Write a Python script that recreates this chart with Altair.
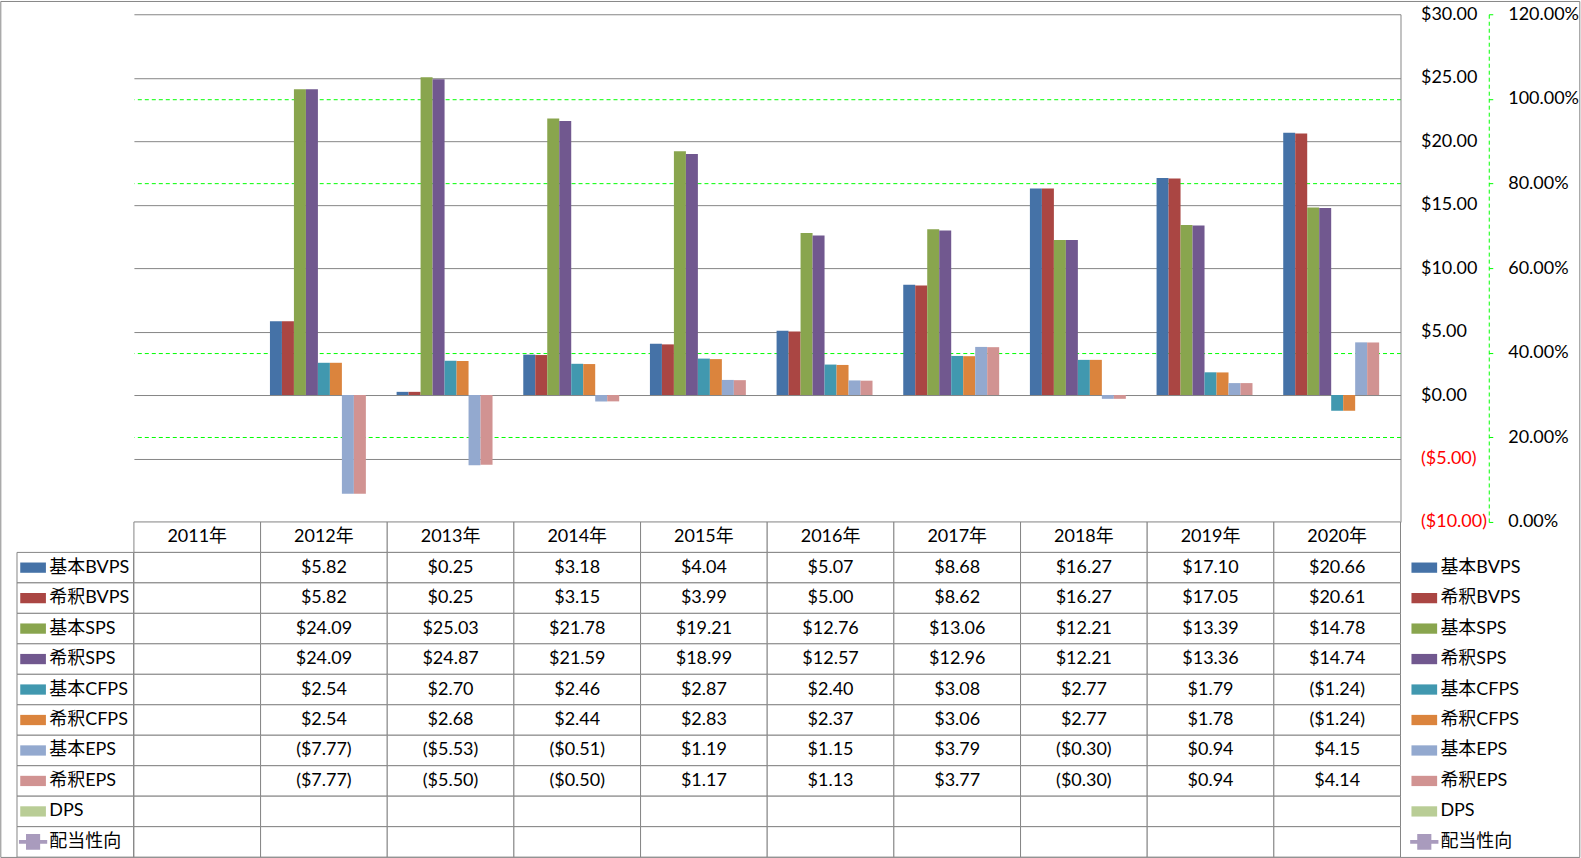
import altair as alt
import pandas as pd

# ---------------- data ----------------
years = ["2011年", "2012年", "2013年", "2014年", "2015年", "2016年", "2017年", "2018年", "2019年", "2020年"]
series_names = ["基本BVPS", "希釈BVPS", "基本SPS", "希釈SPS", "基本CFPS", "希釈CFPS", "基本EPS", "希釈EPS", "DPS", "配当性向"]
bar_series = series_names[:9]
colors = ["#4572A7", "#AA4643", "#89A54E", "#71588F", "#4198AF", "#DB843D", "#93A9CF", "#D19392", "#B9CD96", "#A99BBD"]

basic_bvps = [None, 5.82, 0.25, 3.18, 4.04, 5.07, 8.68, 16.27, 17.10, 20.66]
dil_bvps = [None, 5.82, 0.25, 3.15, 3.99, 5.00, 8.62, 16.27, 17.05, 20.61]
basic_sps = [None, 24.09, 25.03, 21.78, 19.21, 12.76, 13.06, 12.21, 13.39, 14.78]
dil_sps = [None, 24.09, 24.87, 21.59, 18.99, 12.57, 12.96, 12.21, 13.36, 14.74]
basic_cfps = [None, 2.54, 2.70, 2.46, 2.87, 2.40, 3.08, 2.77, 1.79, -1.24]
dil_cfps = [None, 2.54, 2.68, 2.44, 2.83, 2.37, 3.06, 2.77, 1.78, -1.24]
basic_eps = [None, -7.77, -5.53, -0.51, 1.19, 1.15, 3.79, -0.30, 0.94, 4.15]
dil_eps = [None, -7.77, -5.50, -0.50, 1.17, 1.13, 3.77, -0.30, 0.94, 4.14]
dps = [None] * 10
payout = [None] * 10

usd_ticks = [-10, -5, 0, 5, 10, 15, 20, 25, 30]
pct_ticks = [0, 0.2, 0.4, 0.6, 0.8, 1.0, 1.2]

series_values = [basic_bvps, dil_bvps, basic_sps, dil_sps, basic_cfps, dil_cfps,
                 basic_eps, dil_eps, dps, payout]

rows = []
for name, vals in zip(series_names, series_values):
    for yr, v in zip(years, vals):
        rows.append({"year": yr, "series": name, "v": v})
df = pd.DataFrame(rows)

row_domain = ["header"] + series_names
cells = pd.DataFrame([{"year": yr, "row": r} for r in row_domain for yr in years])
year_df = pd.DataFrame({"year": years, "row": ["header"] * len(years)})
label_df = pd.DataFrame({"row": series_names})

# ---------------- styling ----------------
FONT = "Lato, 'Noto Sans CJK JP', sans-serif"
FS = 18
GRAY = "#868686"
GREEN = "#00FF00"
W_LAB, W_PLOT, H_PLOT, H_TAB, W_LEG = 116.6, 1267.4, 508, 335.4, 180

RECT_PATH = "M-1,-0.4H1V0.4H-1Z"
LINE_PATH = ("M-1.1,-0.15H-0.55V-0.62H0.55V-0.15H1.1V0.15H0.55V0.62H-0.55V0.15H-1.1Z")

color_scale = alt.Scale(domain=series_names, range=colors)
shape_scale = alt.Scale(domain=series_names, range=[RECT_PATH] * 9 + [LINE_PATH])

# ---------------- plot ----------------
x_plot = alt.X("year:N", sort=years,
               scale=alt.Scale(domain=years, paddingInner=0.148, paddingOuter=0.074),
               axis=None)

usd_label = ("datum.value < 0 ? '($' + format(-datum.value, '.2f') + ')' : "
             "'$' + format(datum.value, '.2f')")

bars = alt.Chart(df).transform_filter(
    alt.FieldOneOfPredicate(field="series", oneOf=bar_series)
).transform_filter("isValid(datum.v)").mark_bar().encode(
    x=x_plot,
    xOffset=alt.XOffset("series:N", scale=alt.Scale(domain=bar_series, paddingInner=0, paddingOuter=0)),
    y=alt.Y("v:Q",
            scale=alt.Scale(domain=[-10, 30], nice=False, zero=False),
            axis=alt.Axis(orient="right", values=usd_ticks, grid=True, gridColor=GRAY,
                          domain=True, domainColor=GRAY, ticks=False, labelPadding=20,
                          labelFont=FONT, labelFontSize=FS, labelExpr=usd_label,
                          labelColor={"condition": {"test": "datum.value < 0", "value": "#FF0000"},
                                      "value": "#000000"},
                          labelAlign="left", labelBaseline="middle", title=None)),
    color=alt.Color("series:N", scale=color_scale, legend=None),
)

# percent gridlines that coincide with a $ gridline are hidden (the grey line wins)
pct_hidden = "datum.value < 0.01 || abs(datum.value - 0.6) < 0.01 || datum.value > 1.19"

pct = alt.Chart(df).transform_filter(alt.datum.series == "配当性向").mark_line(
    color="#A99BBD"
).encode(
    x=x_plot,
    y=alt.Y("v:Q",
            scale=alt.Scale(domain=[0, 1.2], nice=False, zero=False),
            axis=alt.Axis(orient="right", offset=88.3, values=pct_ticks, format=".2%",
                          grid=True, gridColor=GREEN, gridDash=[4, 3],
                          gridOpacity={"condition": {"test": pct_hidden, "value": 0}, "value": 1},
                          domain=True, domainColor=GREEN, domainDash=[4, 3],
                          ticks=True, tickColor=GREEN, tickSize=4, labelPadding=15,
                          labelFont=FONT, labelFontSize=FS, labelColor="#000000",
                          labelAlign="left", labelBaseline="middle", title=None)),
)

plot = alt.layer(bars, pct).resolve_scale(y="independent").properties(width=W_PLOT, height=H_PLOT)

# outer chart border drawn from the top-left spacer
spacer = alt.Chart(alt.Data(values=[{}])).mark_rect(
    fillOpacity=0, stroke=GRAY, strokeWidth=1
).encode(
    x=alt.value(-16.2), x2=alt.value(1563.8), y=alt.value(-12.8), y2=alt.value(843.7)
).properties(width=W_LAB, height=H_PLOT)

blank = alt.Chart(alt.Data(values=[{}])).mark_point(opacity=0).encode(
    x=alt.value(0), y=alt.value(0)
).properties(width=W_LEG, height=H_PLOT)

# ---------------- data table ----------------
y_tab = alt.Y("row:N", scale=alt.Scale(domain=row_domain, paddingInner=0, paddingOuter=0), axis=None)
x_tab = alt.X("year:N", scale=alt.Scale(domain=years, paddingInner=0, paddingOuter=0), axis=None)

cell_rects = alt.Chart(cells).mark_rect(fill="white", stroke=GRAY, strokeWidth=1).encode(
    x=x_tab, y=y_tab)

header_text = alt.Chart(year_df).mark_text(font=FONT, fontSize=FS, color="#000000",
                                            baseline="middle").encode(
    x=x_tab, y=y_tab, text="year:N")

value_text = alt.Chart(df).transform_filter("isValid(datum.v)").transform_calculate(
    row="datum.series",
    label="datum.v < 0 ? '($' + format(-datum.v, '.2f') + ')' : '$' + format(datum.v, '.2f')"
).mark_text(font=FONT, fontSize=FS, color="#000000", baseline="middle").encode(
    x=x_tab, y=y_tab, text="label:N")

table = alt.layer(cell_rects, header_text, value_text).properties(width=W_PLOT, height=H_TAB)


def key_column(width, sw_x, txt_x, borders):
    layers = []
    if borders:
        layers.append(alt.Chart(label_df).mark_rect(fill="white", stroke=GRAY, strokeWidth=1).encode(
            x=alt.value(0), x2=alt.value(width), y=y_tab))
    layers.append(alt.Chart(label_df).mark_point(filled=True, opacity=1, size=660, strokeWidth=0).encode(
        x=alt.value(sw_x), y=y_tab,
        color=alt.Color("row:N", scale=color_scale, legend=None),
        shape=alt.Shape("row:N", scale=shape_scale, legend=None)))
    layers.append(alt.Chart(label_df).mark_text(font=FONT, fontSize=FS, color="#000000",
                                                align="left", baseline="middle").encode(
        x=alt.value(txt_x), y=y_tab, text="row:N"))
    return alt.layer(*layers).properties(width=width, height=H_TAB)


left_keys = key_column(W_LAB, 16.1, 32.3, True)
right_keys = key_column(W_LEG, 23.2, 39.3, False)

chart = alt.concat(spacer, plot, blank, left_keys, table, right_keys,
                   columns=3, spacing=0, bounds="flush", align="each").properties(
    padding=0, background="white"
).configure_view(stroke=None)

chart.save("out.html", embed_options={"renderer": "svg", "actions": False})
